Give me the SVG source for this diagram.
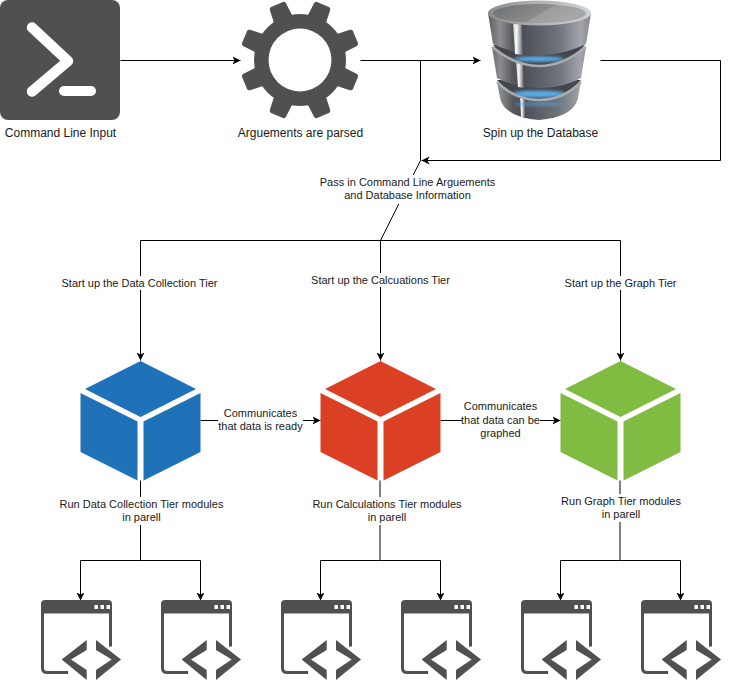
<svg xmlns="http://www.w3.org/2000/svg" xmlns:xlink="http://www.w3.org/1999/xlink" width="729" height="681" viewBox="0 0 729 681">
<style>
text{font-family:"Liberation Sans",Arial,sans-serif;fill:#1a1a1a;text-anchor:middle}
.t12{font-size:12px}.t11{font-size:11px}
.c{fill:none;stroke:#000;stroke-width:1}
.a{marker-end:url(#arr)}
.lb{fill:#fff}
.ic{fill:#505050}
.gap{fill:#43464c}
.blue{fill:#5aaae6;filter:url(#soft)}
.rimline{fill:none;stroke:#a9abae;stroke-width:2.500}
</style>
<defs>
<marker id="arr" markerUnits="userSpaceOnUse" markerWidth="10" markerHeight="10" refX="8" refY="5" orient="auto">
<path d="M0 1L8 5L0 9L2 5Z" fill="#000"/>
</marker>
<filter id="soft" x="-30%" y="-100%" width="160%" height="300%"><feGaussianBlur stdDeviation="1.800"/></filter>
<path id="tooth" d="M-10 -42L-8.800 -57.500Q-8.600 -60 -6.500 -60L6.500 -60Q8.600 -60 8.800 -57.500L10 -42Z" class="ic"/>
<g id="cube">
<path d="M0 0L55.500 28L0 56L-55.500 28Z"/>
<path d="M-60 32L-3 60.500V119.500L-60 91Z"/>
<path d="M60 32L3 60.500V119.500L60 91Z"/>
</g>
<g id="win">
<path d="M1.500 12V68Q1.500 72.500 6 72.500H27M69.500 12V46.500" fill="none" stroke="#505050" stroke-width="3"/>
<path d="M0 13.500V4Q0 0 4 0H67Q71 0 71 4V13.500Z" class="ic"/>
<rect x="53.500" y="5" width="3.500" height="4" fill="#fff"/><rect x="59.500" y="5" width="3.500" height="4" fill="#fff"/><rect x="65.500" y="5" width="3.500" height="4" fill="#fff"/>
<path d="M45.700 40V50L30 59.500L45.700 70V80L20.700 59.500Z" class="ic"/>
<path d="M55 40V50L70.700 59.500L55 70V80L80 59.500Z" class="ic"/>
</g>
<linearGradient id="metal" gradientUnits="userSpaceOnUse" x1="488" x2="591" y1="0" y2="0">
<stop offset="0" stop-color="#5e6064"/><stop offset=".12" stop-color="#8a8c8f"/><stop offset=".24" stop-color="#56585c"/><stop offset=".33" stop-color="#4b4e55"/><stop offset=".68" stop-color="#6e7279"/><stop offset=".9" stop-color="#a2a5aa"/><stop offset="1" stop-color="#85878b"/>
</linearGradient>
<linearGradient id="stripe" x1="0" x2="1" y1="0" y2="0">
<stop offset="0" stop-color="#c9cacc"/><stop offset=".35" stop-color="#fafafa"/><stop offset="1" stop-color="#5a5c60"/>
</linearGradient>
<linearGradient id="rim" x1="0" x2="1" y1="0" y2="0">
<stop offset="0" stop-color="#8a8b8d"/><stop offset=".4" stop-color="#a9aaac"/><stop offset="1" stop-color="#d2d4d8"/>
</linearGradient>
<linearGradient id="top" x1="0" x2="1" y1="0" y2=".35">
<stop offset="0" stop-color="#6c6d6f"/><stop offset=".6" stop-color="#8b8c8e"/><stop offset=".63" stop-color="#9c9d9f"/><stop offset="1" stop-color="#a6a7a9"/>
</linearGradient>
</defs>

<g id="connectors" transform="translate(.5 .5)">
<path class="c a" d="M120 60H240"/>
<path class="c a" d="M360 60H480"/>
<path class="c" d="M420 60V160L380 240"/>
<path class="c a" d="M600 60H720V160H421"/>
<path class="c a" d="M380 240H140V360"/>
<path class="c a" d="M380 240V360"/>
<path class="c a" d="M380 240H620V360"/>
<path class="c a" d="M200 420H320"/>
<path class="c a" d="M440 420H560"/>
<path class="c a" d="M140 480V560H80V600"/>
<path class="c a" d="M140 560H200V600"/>
<path class="c" d="M379.500 480V560"/>
<path class="c a" d="M380 560H320V600"/>
<path class="c a" d="M380 560H440V600"/>
<path class="c" d="M619.500 480V560"/>
<path class="c a" d="M620 560H560V600"/>
<path class="c a" d="M620 560H680V600"/>
</g>

<g id="cli">
<rect x="0" y="0" width="120" height="120" rx="8" class="ic"/>
<path d="M32 27.500L68 61L32 91.500" fill="none" stroke="#fff" stroke-width="10.500" stroke-linecap="round" stroke-linejoin="round"/>
<path d="M64 91H91" fill="none" stroke="#fff" stroke-width="10" stroke-linecap="round"/>
<text class="t12" x="60.500" y="137">Command Line Input</text>
</g>

<g id="gear">
<g transform="translate(300 60)">
<use xlink:href="#tooth" href="#tooth" transform="rotate(22.500)"/><use xlink:href="#tooth" href="#tooth" transform="rotate(67.500)"/><use xlink:href="#tooth" href="#tooth" transform="rotate(112.500)"/><use xlink:href="#tooth" href="#tooth" transform="rotate(157.500)"/><use xlink:href="#tooth" href="#tooth" transform="rotate(202.500)"/><use xlink:href="#tooth" href="#tooth" transform="rotate(247.500)"/><use xlink:href="#tooth" href="#tooth" transform="rotate(292.500)"/><use xlink:href="#tooth" href="#tooth" transform="rotate(337.500)"/>
<circle r="46" class="ic"/><circle r="31.500" fill="#fff"/>
</g>
<text class="t12" x="300.500" y="137">Arguements are parsed</text>
</g>

<g id="database">
<path d="M497 82L500.500 100Q506 117 539 120Q572 117 577.500 100L581 82Z" fill="url(#metal)"/>
<path d="M520 97L525 100V118L521 117Z" fill="url(#stripe)"/>
<path class="gap" d="M497 80H581C568 96 553 100 539 100C525 100 510 96 497 80Z"/>
<ellipse class="blue" cx="539" cy="94" rx="27" ry="3.500"/>
<ellipse class="blue" cx="539" cy="104" rx="24" ry="2" opacity=".55"/>
<path class="rimline" d="M497 82C510 95 525 100 539 100C553 100 568 95 581 82"/>
<path d="M492 47L497 78C510 85 525 88 539 88C553 88 568 85 581 78L586 47Z" fill="url(#metal)"/>
<path d="M516 60H522.500L524 88L518 87Z" fill="url(#stripe)"/>
<path class="gap" d="M493 45H585C570 60 553 66 539 66C525 66 508 60 493 45Z"/>
<ellipse class="blue" cx="539" cy="59" rx="25" ry="2.800"/>
<path class="rimline" d="M492 47C508 60 525 66 539 66C553 66 570 60 586 47"/>
<path d="M488 13L493 44C510 52 525 55 539 55C553 55 570 52 586 44L591 13Z" fill="url(#metal)"/>
<path d="M513 22L521.500 24L523 55L515 54Z" fill="url(#stripe)"/>
<ellipse cx="539.500" cy="13" rx="51.500" ry="12.500" fill="url(#rim)"/>
<ellipse cx="539.500" cy="13.500" rx="46.500" ry="9.500" fill="url(#top)"/>
<text class="t12" x="540.500" y="137">Spin up the Database</text>
</g>

<g id="blue-cube" fill="#1f71b8"><use xlink:href="#cube" href="#cube" x="140.500" y="361"/></g>
<g id="red-cube" fill="#dc4024"><use xlink:href="#cube" href="#cube" x="380.500" y="361"/></g>
<g id="green-cube" fill="#80bc42"><use xlink:href="#cube" href="#cube" x="620.500" y="361"/></g>

<g id="windows">
<use xlink:href="#win" href="#win" x="41" y="600"/><use xlink:href="#win" href="#win" x="161" y="600"/>
<use xlink:href="#win" href="#win" x="281" y="600"/><use xlink:href="#win" href="#win" x="401" y="600"/>
<use xlink:href="#win" href="#win" x="521" y="600"/><use xlink:href="#win" href="#win" x="641" y="600"/>
</g>

<g id="labels">
<rect class="lb" x="316" y="175" width="184" height="29"/>
<text class="t11" x="407.500" y="186">Pass in Command Line Arguements</text>
<text class="t11" x="407.500" y="199">and Database Information</text>
<rect class="lb" x="58" y="276" width="164" height="14"/>
<text class="t11" x="139.500" y="287">Start up the Data Collection Tier</text>
<rect class="lb" x="308" y="273" width="144" height="14"/>
<text class="t11" x="380.500" y="284">Start up the Calcuations Tier</text>
<rect class="lb" x="561" y="276" width="118" height="14"/>
<text class="t11" x="620.500" y="287">Start up the Graph Tier</text>
<rect class="lb" x="218" y="406" width="85" height="28"/>
<text class="t11" x="260.500" y="417">Communicates</text>
<text class="t11" x="260.500" y="430">that data is ready</text>
<rect class="lb" x="462" y="399" width="78" height="42"/>
<text class="t11" x="500.500" y="410">Communicates</text>
<text class="t11" x="500.500" y="424">that data can be</text>
<text class="t11" x="500.500" y="437">graphed</text>
<rect class="lb" x="58" y="497" width="167" height="28"/>
<text class="t11" x="141.500" y="508">Run Data Collection Tier modules</text>
<text class="t11" x="141.500" y="521">in parell</text>
<rect class="lb" x="310" y="497" width="153" height="28"/>
<text class="t11" x="387" y="508">Run Calculations Tier modules</text>
<text class="t11" x="387" y="521">in parell</text>
<rect class="lb" x="560" y="494" width="122" height="28"/>
<text class="t11" x="621" y="505">Run Graph Tier modules</text>
<text class="t11" x="621" y="518">in parell</text>
</g>
</svg>
